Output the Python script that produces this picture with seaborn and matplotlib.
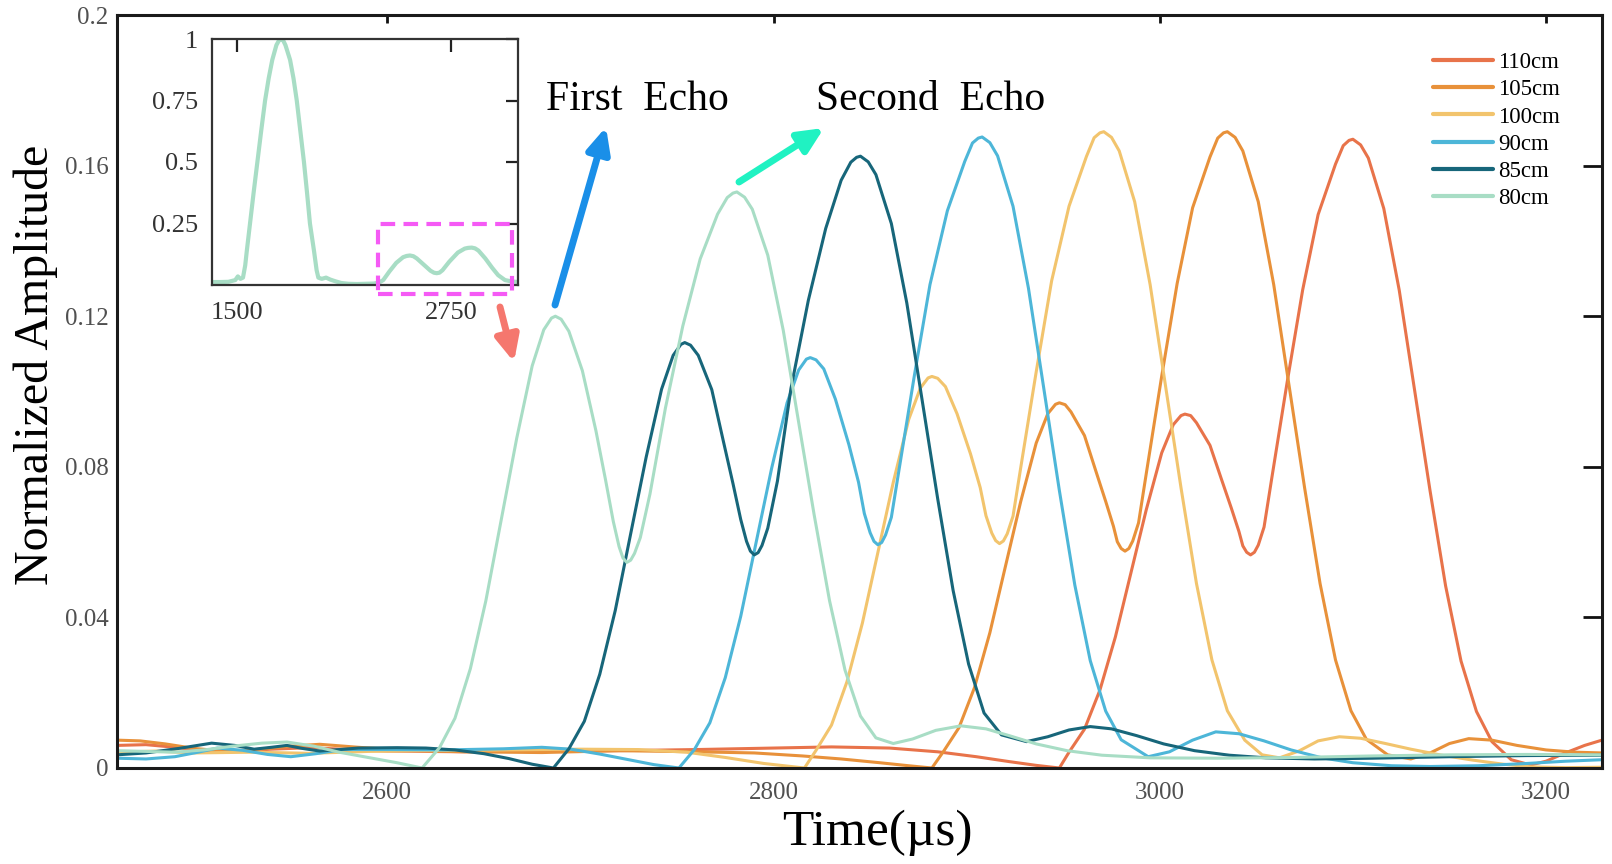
import numpy as np
import pandas as pd
import matplotlib
matplotlib.use('Agg')
import matplotlib.pyplot as plt
from matplotlib.patches import Rectangle
import seaborn as sns

# values (time in us, normalized amplitude)
t_80 = [2460, 2475, 2490, 2505, 2520, 2535, 2548, 2562, 2575, 2590, 2605, 2618,
        2627, 2635, 2643, 2651, 2659, 2667, 2675, 2681, 2685, 2687,
        2690, 2694, 2701, 2708, 2713, 2717, 2720, 2722, 2724,
        2726, 2728, 2731, 2736, 2744, 2753, 2762, 2771, 2776, 2779, 2781,
        2785, 2789, 2797, 2805, 2813, 2821, 2829, 2837, 2845, 2853, 2862,
        2872, 2884, 2897, 2910, 2922, 2936, 2952, 2970, 2995, 3030, 3070, 3110, 3150, 3190, 3229]
a_80 = [0.0046, 0.0044, 0.0042, 0.0048, 0.0058, 0.0066, 0.0069, 0.0058, 0.0042, 0.0028, 0.0014, 0.0,
        0.0054, 0.0132, 0.0264, 0.0444, 0.0660, 0.0876, 0.1068, 0.1164, 0.1195, 0.1200,
        0.1192, 0.1160, 0.1055, 0.0896, 0.0765, 0.0655, 0.0588, 0.0558, 0.0546,
        0.0552, 0.0570, 0.0612, 0.0728, 0.0956, 0.1174, 0.1352, 0.1471, 0.1515, 0.1527, 0.1530,
        0.1516, 0.1484, 0.1362, 0.1163, 0.0918, 0.0673, 0.0444, 0.0260, 0.0138, 0.0080, 0.0065,
        0.0077, 0.0100, 0.0112, 0.0104, 0.0086, 0.0064, 0.0046, 0.0034, 0.0027, 0.0026, 0.0028, 0.0032, 0.0035, 0.0036, 0.0035]

t_85 = [2460, 2475, 2492, 2509, 2521, 2531, 2540, 2548, 2556, 2565, 2585, 2605, 2620, 2635, 2650, 2663, 2675, 2686,
        2694, 2702, 2710, 2718, 2726, 2734, 2742, 2748, 2752, 2754,
        2757, 2761, 2768, 2774, 2779, 2783, 2786, 2788, 2790,
        2792, 2794, 2797, 2802, 2809, 2818, 2827, 2835, 2840, 2843, 2845,
        2849, 2853, 2861, 2869, 2877, 2885, 2893, 2901, 2909, 2918, 2931,
        2942, 2953, 2964, 2975, 2988, 3002, 3018, 3036, 3055, 3080, 3110, 3150, 3190, 3229]
a_85 = [0.0035, 0.0040, 0.0052, 0.0066, 0.0060, 0.0050, 0.0055, 0.0060, 0.0052, 0.0045, 0.0053, 0.0054, 0.0053, 0.0048, 0.0038, 0.0025, 0.0010, 0.0,
        0.0051, 0.0124, 0.0249, 0.0418, 0.0622, 0.0825, 0.1006, 0.1096, 0.1125, 0.1130,
        0.1123, 0.1096, 0.1005, 0.0868, 0.0755, 0.0660, 0.0602, 0.0576, 0.0566,
        0.0572, 0.0591, 0.0637, 0.0762, 0.1008, 0.1242, 0.1433, 0.1561, 0.1609, 0.1622, 0.1625,
        0.1610, 0.1576, 0.1446, 0.1235, 0.0975, 0.0715, 0.0471, 0.0276, 0.0146, 0.0088, 0.0070,
        0.0083, 0.0101, 0.0110, 0.0104, 0.0086, 0.0064, 0.0046, 0.0034, 0.0027, 0.0024, 0.0026, 0.0030, 0.0033, 0.0034]

t_90 = [2460, 2475, 2490, 2502, 2512, 2525, 2538, 2550, 2563, 2577, 2600, 2630, 2660, 2680, 2695, 2710, 2725, 2738, 2751,
        2759, 2767, 2775, 2783, 2791, 2799, 2807, 2813, 2817, 2819,
        2822, 2826, 2832, 2839, 2844, 2847, 2850, 2852, 2854,
        2856, 2858, 2861, 2865, 2873, 2881, 2890, 2899, 2903, 2906, 2908,
        2912, 2916, 2924, 2932, 2940, 2948, 2956, 2964, 2972, 2980, 2994,
        3005, 3017, 3029, 3041, 3054, 3068, 3084, 3100, 3120, 3140, 3165, 3190, 3210, 3229]
a_90 = [0.0026, 0.0024, 0.0030, 0.0042, 0.0053, 0.0047, 0.0036, 0.0030, 0.0038, 0.0049, 0.0049, 0.0048, 0.0051, 0.0055, 0.0050, 0.0037, 0.0022, 0.0009, 0.0,
        0.0049, 0.0120, 0.0240, 0.0403, 0.0600, 0.0796, 0.0970, 0.1057, 0.1086, 0.1090,
        0.1084, 0.1060, 0.0980, 0.0859, 0.0759, 0.0676, 0.0625, 0.0602, 0.0593,
        0.0599, 0.0619, 0.0666, 0.0793, 0.1045, 0.1284, 0.1480, 0.1611, 0.1660, 0.1673, 0.1676,
        0.1661, 0.1626, 0.1492, 0.1274, 0.1006, 0.0737, 0.0486, 0.0285, 0.0151, 0.0075, 0.0030,
        0.0043, 0.0074, 0.0096, 0.0091, 0.0072, 0.0048, 0.0027, 0.0014, 0.0006, 0.0004, 0.0006, 0.0012, 0.0018, 0.0022]

t_100 = [2460, 2480, 2500, 2530, 2560, 2590, 2620, 2660, 2700, 2730, 2755, 2775, 2795, 2816,
         2822, 2830, 2838, 2846, 2854, 2862, 2870, 2876, 2880, 2882,
         2885, 2889, 2895, 2902, 2907, 2910, 2913, 2915, 2917,
         2919, 2921, 2924, 2928, 2936, 2944, 2953, 2962, 2966, 2969, 2971,
         2975, 2979, 2987, 2995, 3003, 3011, 3019, 3027, 3035, 3044, 3053, 3062,
         3072, 3082, 3093, 3104, 3116, 3130, 3146, 3162, 3178, 3192, 3210, 3229]
a_100 = [0.0042, 0.0045, 0.0040, 0.0042, 0.0039, 0.0044, 0.0046, 0.0048, 0.0050, 0.0049, 0.0042, 0.0028, 0.0012, 0.0,
         0.0047, 0.0114, 0.0229, 0.0385, 0.0572, 0.0759, 0.0926, 0.1009, 0.1036, 0.1040,
         0.1035, 0.1013, 0.0941, 0.0834, 0.0745, 0.0670, 0.0624, 0.0604, 0.0596,
         0.0603, 0.0622, 0.0669, 0.0798, 0.1052, 0.1294, 0.1492, 0.1624, 0.1674, 0.1687, 0.1690,
         0.1675, 0.1639, 0.1504, 0.1284, 0.1014, 0.0744, 0.0490, 0.0287, 0.0152, 0.0074, 0.0035, 0.0027,
         0.0045, 0.0072, 0.0083, 0.0079, 0.0066, 0.0050, 0.0034, 0.0021, 0.0010, 0.0003, 0.0001, 0.0002]

t_105 = [2460, 2472, 2485, 2500, 2515, 2530, 2550, 2565, 2585, 2610, 2640, 2680, 2720, 2760, 2790, 2815, 2835, 2855, 2870, 2882,
         2888, 2896, 2904, 2912, 2920, 2928, 2936, 2942, 2946, 2948,
         2951, 2954, 2961, 2967, 2972, 2976, 2978, 2980, 2982,
         2984, 2986, 2989, 2993, 3001, 3009, 3017, 3026, 3030, 3033, 3035,
         3039, 3043, 3051, 3059, 3067, 3075, 3083, 3091, 3099, 3107, 3118, 3130,
         3140, 3150, 3160, 3172, 3185, 3200, 3215, 3229]
a_105 = [0.0074, 0.0072, 0.0064, 0.0052, 0.0045, 0.0048, 0.0058, 0.0063, 0.0055, 0.0047, 0.0043, 0.0041, 0.0046, 0.0043, 0.0040, 0.0032, 0.0024, 0.0014, 0.0006, 0.0,
         0.0044, 0.0107, 0.0213, 0.0359, 0.0534, 0.0708, 0.0863, 0.0941, 0.0966, 0.0970,
         0.0965, 0.0946, 0.0883, 0.0787, 0.0708, 0.0642, 0.0601, 0.0583, 0.0576,
         0.0583, 0.0603, 0.0651, 0.0782, 0.1041, 0.1287, 0.1488, 0.1623, 0.1673, 0.1687, 0.1690,
         0.1675, 0.1639, 0.1504, 0.1284, 0.1014, 0.0744, 0.0490, 0.0287, 0.0152, 0.0076, 0.0035, 0.0024,
         0.0040, 0.0065, 0.0078, 0.0074, 0.0060, 0.0048, 0.0042, 0.0040]

t_110 = [2460, 2475, 2490, 2505, 2520, 2540, 2560, 2580, 2600, 2640, 2680, 2720, 2760, 2800, 2830, 2860, 2885, 2905, 2922, 2936, 2948,
         2953, 2961, 2969, 2977, 2985, 2993, 3001, 3007, 3011, 3013,
         3016, 3019, 3026, 3032, 3037, 3041, 3043, 3045, 3047,
         3049, 3051, 3054, 3058, 3066, 3074, 3082, 3091, 3095, 3098, 3100,
         3104, 3108, 3116, 3124, 3132, 3140, 3148, 3156, 3164, 3172, 3182, 3192,
         3200, 3210, 3220, 3229]
a_110 = [0.0060, 0.0062, 0.0055, 0.0046, 0.0044, 0.0050, 0.0054, 0.0049, 0.0045, 0.0043, 0.0045, 0.0046, 0.0049, 0.0053, 0.0056, 0.0053, 0.0043, 0.0030, 0.0017, 0.0007, 0.0,
         0.0042, 0.0103, 0.0207, 0.0348, 0.0517, 0.0686, 0.0837, 0.0912, 0.0936, 0.0940,
         0.0936, 0.0917, 0.0857, 0.0766, 0.0691, 0.0628, 0.0590, 0.0573, 0.0566,
         0.0573, 0.0592, 0.0640, 0.0770, 0.1026, 0.1270, 0.1470, 0.1604, 0.1653, 0.1667, 0.1670,
         0.1655, 0.1620, 0.1486, 0.1269, 0.1002, 0.0735, 0.0484, 0.0284, 0.0150, 0.0070, 0.0022, 0.0008,
         0.0018, 0.0040, 0.0060, 0.0074]

labels = ['110cm', '105cm', '100cm', '90cm', '85cm', '80cm']
colors = ['#E8734A', '#E8913A', '#F2C46D', '#4DB6D8', '#17667A', '#A8DDC5']
times = [t_110, t_105, t_100, t_90, t_85, t_80]
amps = [a_110, a_105, a_100, a_90, a_85, a_80]

# inset: full received signal of the 80cm case
t_inset = [1354, 1400, 1450, 1490, 1505, 1520, 1535, 1548, 1557, 1576, 1597, 1619, 1641, 1664, 1685, 1706, 1730,
           1745, 1757, 1769, 1783, 1810, 1830, 1849, 1870, 1891, 1909, 1926, 1950, 1965, 1975, 1995, 2020, 2045, 2075,
           2110, 2150, 2200, 2250, 2300, 2330, 2354, 2390, 2430, 2470, 2490, 2510, 2530, 2550, 2590, 2630, 2650, 2666,
           2682, 2700, 2740, 2790, 2830, 2850, 2871, 2890, 2910, 2950, 2990, 3025, 3065, 3100, 3141]
a_inset = [0.012, 0.012, 0.013, 0.020, 0.035, 0.025, 0.030, 0.080, 0.137, 0.250, 0.375, 0.500, 0.625, 0.750, 0.840, 0.915, 0.975,
           0.994, 1.000, 0.995, 0.975, 0.915, 0.840, 0.750, 0.625, 0.500, 0.375, 0.250, 0.137, 0.060, 0.030, 0.025, 0.030, 0.022, 0.015,
           0.008, 0.005, 0.004, 0.005, 0.006, 0.010, 0.020, 0.055, 0.090, 0.113, 0.118, 0.120, 0.117, 0.108, 0.083, 0.058, 0.050, 0.048,
           0.050, 0.060, 0.095, 0.132, 0.148, 0.151, 0.152, 0.149, 0.140, 0.108, 0.070, 0.040, 0.020, 0.015, 0.012]

frames = []
for lab, t, a in zip(labels, times, amps):
    frames.append(pd.DataFrame({'time': t, 'amp': a, 'dist': lab}))
df = pd.concat(frames, ignore_index=True)

sns.set_theme(style='white')
plt.rcParams['font.family'] = ['Liberation Serif', 'DejaVu Serif']
plt.rcParams['text.color'] = 'black'
plt.rcParams['axes.labelcolor'] = 'black'

W, H = 1612, 864
fig = plt.figure(figsize=(W / 100, H / 100), dpi=100)
fig.set_facecolor('white')

ax = fig.add_axes([117 / W, 1 - 768 / H, (1602 - 117) / W, (768 - 15) / H])
sns.lineplot(data=df, x='time', y='amp', hue='dist', hue_order=labels,
             palette=dict(zip(labels, colors)), estimator=None, linewidth=2.2, ax=ax)

ax.set_xlim(2460, 3229)
ax.set_ylim(0, 0.2)
ax.set_xticks([2600, 2800, 3000, 3200])
ax.set_yticks([0, 0.04, 0.08, 0.12, 0.16, 0.2])
ax.set_yticklabels(['0', '0.04', '0.08', '0.12', '0.16', '0.2'])
ax.tick_params(axis='both', direction='in', top=True, right=True, labelsize=18,
               labelcolor='#505050', color='#111111', width=2)
ax.tick_params(axis='x', length=6, pad=10)
ax.tick_params(axis='y', length=14, pad=6)
for s in ax.spines.values():
    s.set_linewidth(2.2)
    s.set_color('#1a1a1a')

ax.set_xlabel('Time(µs)', fontsize=37)
ax.set_ylabel('Normalized Amplitude', fontsize=34.5)
ax.xaxis.set_label_coords((877 - 117) / 1485, (768 - 810) / 753)
ax.yaxis.set_label_coords((58 - 117) / 1485, (768 - 365) / 753)

sns.move_legend(ax, 'upper left', bbox_to_anchor=(1433 / W, 1 - 52 / H),
                bbox_transform=fig.transFigure, title=None, frameon=False,
                fontsize=16.5, handlelength=2.6, handletextpad=0.25,
                labelspacing=0.27, borderpad=0, borderaxespad=0)
for line in ax.get_legend().get_lines():
    line.set_linewidth(3)

# inset
axin = fig.add_axes([212 / W, 1 - 285 / H, 306 / W, 246 / H])
sns.lineplot(x=t_inset, y=a_inset, color='#A8DDC5', linewidth=3, ax=axin)
axin.set_xlim(1354, 3141)
axin.set_ylim(0, 1)
axin.set_xticks([1500, 2750])
axin.set_yticks([0.25, 0.5, 0.75, 1])
axin.set_yticklabels(['0.25', '0.5', '0.75', '1'])
axin.tick_params(axis='both', direction='in', top=True, right=True, length=9, width=1.6,
                 labelsize=19, labelcolor='#333333', color='#222222')
axin.tick_params(axis='x', pad=12)
axin.tick_params(axis='y', pad=10)
for s in axin.spines.values():
    s.set_linewidth(1.6)
    s.set_color('#333333')
axin.set_xlabel('')
axin.set_ylabel('')
axin.add_patch(Rectangle((2323, -0.036), 3108 - 2323, 0.284, fill=False,
                         edgecolor='#F55AF5', linewidth=3, linestyle=(0, (3.5, 2)),
                         clip_on=False, zorder=5))


def arrow(tail, tip, color):
    ax.annotate('', xy=(tip[0], H - tip[1]), xycoords='figure pixels',
                xytext=(tail[0], H - tail[1]), textcoords='figure pixels',
                arrowprops=dict(arrowstyle='-|>,head_length=0.75,head_width=0.35',
                                color=color, lw=5, mutation_scale=20,
                                shrinkA=0, shrinkB=0),
                annotation_clip=False)


arrow((555, 305), (606, 127), '#1A8FE8')
arrow((739, 182), (824, 128), '#20F2C2')
arrow((500, 307), (514, 362), '#F5776E')

fig.text(546 / W, 1 - 110 / H, 'First  Echo', fontsize=30, ha='left', va='baseline', color='black')
fig.text(816 / W, 1 - 110 / H, 'Second  Echo', fontsize=30, ha='left', va='baseline', color='black')

fig.savefig('out.png', dpi=100)
